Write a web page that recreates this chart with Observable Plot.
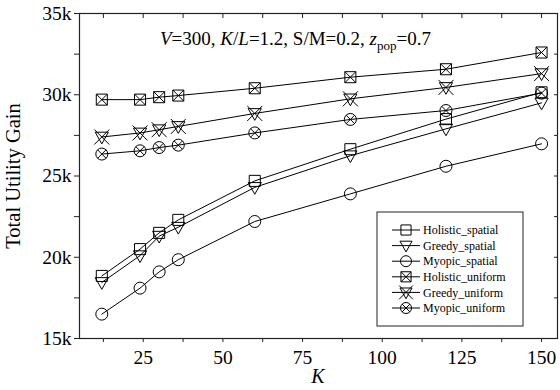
<!DOCTYPE html>
<html>
<head>
<meta charset="utf-8">
<script src="https://cdn.jsdelivr.net/npm/d3@7"></script>
<script src="https://cdn.jsdelivr.net/npm/@observablehq/plot@0.6"></script>
<style>
  html, body { margin: 0; padding: 0; background: #fff; }
  #chart svg { display: block; }
  #chart svg text { font-family: "Liberation Serif", "DejaVu Serif", serif; }
</style>
</head>
<body>
<div id="chart"></div>
<script>
// ---- data (values in thousands) ----
const K = [12, 24, 30, 36, 60, 90, 120, 150];
const holisticSpatial = [18.85, 20.5, 21.5, 22.3, 24.7, 26.65, 28.5, 30.15];
const greedySpatial   = [18.45, 20.1, 21.3, 21.85, 24.3, 26.25, 27.9, 29.5];
const myopicSpatial   = [16.5, 18.1, 19.1, 19.85, 22.2, 23.9, 25.6, 26.98];
const holisticUniform = [29.7, 29.7, 29.85, 29.95, 30.4, 31.08, 31.57, 32.6];
const greedyUniform   = [27.4, 27.65, 27.85, 28.05, 28.85, 29.75, 30.45, 31.3];
const myopicUniform   = [26.35, 26.55, 26.75, 26.9, 27.65, 28.48, 29.03, 30.1];
const seriesNames = ["Holistic_spatial", "Greedy_spatial", "Myopic_spatial",
                     "Holistic_uniform", "Greedy_uniform", "Myopic_uniform"];
const seriesValues = [holisticSpatial, greedySpatial, myopicSpatial,
                      holisticUniform, greedyUniform, myopicUniform];
const xTicks = [12.5, 25, 37.5, 50, 62.5, 75, 87.5, 100, 112.5, 125, 137.5, 150];
const xLabels = [25, 50, 75, 100, 125, 150];
const yTicks = [15000, 17500, 20000, 22500, 25000, 27500, 30000, 32500, 35000];
const yLabels = [15000, 20000, 25000, 30000, 35000];

// ---- custom open marker symbols ----
function rad(size) { return Math.sqrt(size / Math.PI); }
function sqPath(c, r) { const s = r * 0.92; c.moveTo(-s, -s); c.lineTo(s, -s); c.lineTo(s, s); c.lineTo(-s, s); c.closePath(); }
function triPath(c, r) { const w = r * 1.1; c.moveTo(-w, -r * 0.8); c.lineTo(w, -r * 0.8); c.lineTo(0, r * 1.15); c.closePath(); }
function circPath(c, r) { c.moveTo(r, 0); c.arc(0, 0, r, 0, 2 * Math.PI); c.closePath(); }
const symSquare = { draw(c, size) { sqPath(c, rad(size)); } };
const symTriDown = { draw(c, size) { triPath(c, rad(size)); } };
const symCircle = { draw(c, size) { circPath(c, rad(size)); } };
const symSquareX = { draw(c, size) { const r = rad(size), s = r * 0.92; sqPath(c, r); c.moveTo(-s, -s); c.lineTo(s, s); c.moveTo(s, -s); c.lineTo(-s, s); } };
const symTriX = { draw(c, size) { const r = rad(size), w = r * 1.25; triPath(c, r); c.moveTo(-w, -w); c.lineTo(w, w); c.moveTo(w, -w); c.lineTo(-w, w); } };
const symCircleX = { draw(c, size) { const r = rad(size), s = r * 0.707; circPath(c, r); c.moveTo(-s, -s); c.lineTo(s, s); c.moveTo(s, -s); c.lineTo(-s, s); } };
const symbols = [symSquare, symTriDown, symCircle, symSquareX, symTriX, symCircleX];

// ---- tidy table ----
const rows = [];
seriesNames.forEach((name, i) => K.forEach((k, j) => rows.push({ series: name, K: k, gain: seriesValues[i][j] * 1000 })));

const serif = '"Liberation Serif", "DejaVu Serif", serif';

const marks = [
  Plot.frame({ stroke: "#222", strokeWidth: 1.2 }),
  Plot.axisX({ anchor: "bottom", ticks: xTicks, tickSize: 4, tickPadding: 8,
    tickFormat: d => xLabels.includes(d) ? String(d) : "", label: null, stroke: "#222" }),
  Plot.axisX({ anchor: "top", ticks: xTicks, tickSize: -4, tickFormat: () => "", label: null, stroke: "#222" }),
  Plot.axisY({ anchor: "left", ticks: yTicks, tickSize: 5, tickPadding: 3,
    tickFormat: d => yLabels.includes(d) ? (d / 1000) + "k" : "", label: null, stroke: "#222" }),
  Plot.axisY({ anchor: "right", ticks: yTicks, tickSize: -4, tickFormat: () => "", label: null, stroke: "#222" })
];
seriesNames.forEach((name, i) => {
  const d = rows.filter(r => r.series === name);
  marks.push(Plot.line(d, { x: "K", y: "gain", stroke: "#000", strokeWidth: 1 }));
  marks.push(Plot.dot(d, { x: "K", y: "gain", symbol: symbols[i], r: 6, stroke: "#000", fill: "none", strokeWidth: 1 }));
});

const chart = Plot.plot({
  width: 560, height: 390,
  marginLeft: 79, marginRight: 3, marginTop: 13, marginBottom: 52,
  style: { fontFamily: serif, fontSize: "19.5px", background: "#fff", color: "#000" },
  x: { domain: [5, 155] },
  y: { domain: [15000, 35000] },
  marks
});
document.getElementById("chart").appendChild(chart);

// ---- annotations, axis titles, legend ----
const svg = d3.select(chart);

const ann = svg.append("text").attr("x", 160).attr("y", 45).attr("text-anchor", "start")
  .attr("font-family", serif).attr("font-size", 19).attr("fill", "#000");
ann.append("tspan").attr("font-style", "italic").text("V");
ann.append("tspan").text("=300, ");
ann.append("tspan").attr("font-style", "italic").text("K");
ann.append("tspan").text("/");
ann.append("tspan").attr("font-style", "italic").text("L");
ann.append("tspan").text("=1.2, S/M=0.2, ");
ann.append("tspan").attr("font-style", "italic").text("z");
ann.append("tspan").attr("font-size", 13).attr("dy", 5).text("pop");
ann.append("tspan").attr("dy", -5).text("=0.7");

svg.append("text").attr("transform", "translate(20,176) rotate(-90)")
  .attr("text-anchor", "middle").attr("font-family", serif).attr("font-size", 20.5)
  .attr("fill", "#000").text("Total Utility Gain");
svg.append("text").attr("x", 318).attr("y", 383).attr("text-anchor", "middle")
  .attr("font-family", serif).attr("font-size", 20).attr("font-style", "italic")
  .attr("fill", "#000").text("K");

const lg = svg.append("g");
lg.append("rect").attr("x", 377).attr("y", 212).attr("width", 146).attr("height", 114)
  .attr("fill", "#fff").attr("stroke", "#222").attr("stroke-width", 1);
seriesNames.forEach((name, i) => {
  const y = 230 + i * 15.6;
  lg.append("line").attr("x1", 392).attr("x2", 420).attr("y1", y).attr("y2", y)
    .attr("stroke", "#000").attr("stroke-width", 1);
  lg.append("path").attr("transform", `translate(406,${y})`)
    .attr("d", d3.symbol().type(symbols[i]).size(Math.PI * 5.5 * 5.5)())
    .attr("fill", "none").attr("stroke", "#000").attr("stroke-width", 1);
  lg.append("text").attr("x", 423).attr("y", y).attr("dy", "0.35em").attr("text-anchor", "start")
    .attr("font-family", serif).attr("font-size", 12).attr("fill", "#000").text(name);
});
</script>
</body>
</html>
